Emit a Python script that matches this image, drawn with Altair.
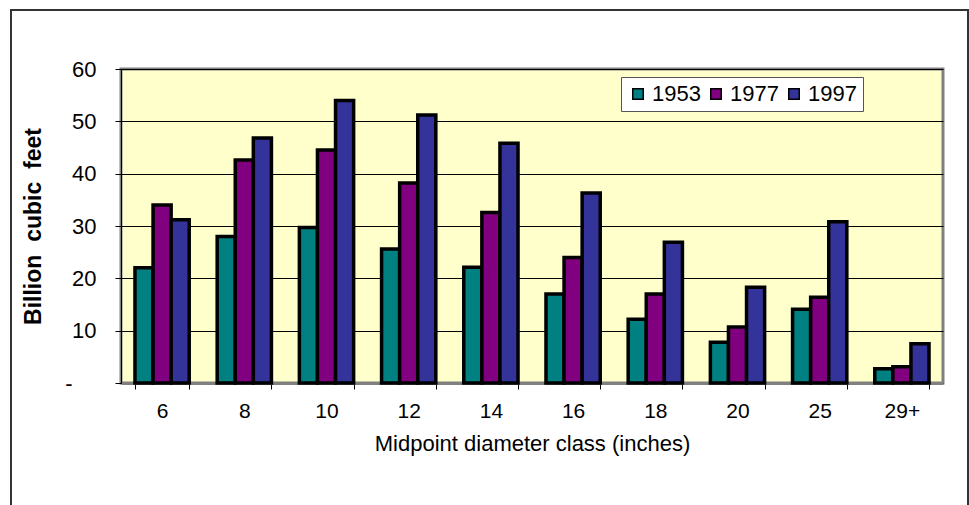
import altair as alt
import pandas as pd

# Net volume by midpoint diameter class, three inventory years
classes = ["6", "8", "10", "12", "14", "16", "18", "20", "25", "29+"]
years = ["1953", "1977", "1997"]
v1953 = [22.0, 28.0, 29.7, 25.6, 22.1, 17.0, 12.2, 7.8, 14.1, 2.7]
v1977 = [34.0, 42.6, 44.5, 38.2, 32.6, 24.0, 17.0, 10.7, 16.4, 3.1]
v1997 = [31.2, 46.8, 54.0, 51.2, 45.8, 36.3, 26.9, 18.3, 30.8, 7.5]
colors = ["#008080", "#800080", "#333399"]

rows = []
for yr, vals in zip(years, [v1953, v1977, v1997]):
    for c, v in zip(classes, vals):
        rows.append({"cls": c, "year": yr, "volume": v})
df = pd.DataFrame(rows)

FONT = "Liberation Sans"
NB = "\u00a0"
W, H = 822, 314

bars = alt.Chart(df).mark_bar(stroke="black", strokeWidth=3.5).encode(
    x=alt.X(
        "cls:N",
        sort=classes,
        scale=alt.Scale(paddingInner=0.34, paddingOuter=0.17),
        axis=alt.Axis(
            title="Midpoint diameter class (inches)",
            titleFontSize=22,
            labelAngle=0,
            tickBand="extent",
            tickSize=6,
            tickColor="black",
            domainColor="#808080",
            domainWidth=3,
            labelPadding=11,
            titlePadding=12,
            grid=False,
        ),
    ),
    xOffset=alt.XOffset("year:N", sort=years),
    y=alt.Y(
        "volume:Q",
        scale=alt.Scale(domain=[0, 60], nice=False),
        axis=alt.Axis(
            title=f"Billion{NB}{NB}cubic{NB}{NB}feet",
            titleFontWeight="bold",
            titleFontSize=23,
            values=[0, 10, 20, 30, 40, 50, 60],
            labelExpr="datum.value == 0 ? '-' : datum.label",
            labelPadding=alt.ExprRef(expr="datum.value == 0 ? 43 : 19"),
            labelFontSize=22,
            tickSize=6,
            tickColor="black",
            domainColor="black",
            titlePadding=19,
            grid=True,
            gridColor="black",
            gridWidth=1,
        ),
    ),
    fill=alt.Fill(
        "year:N",
        sort=years,
        scale=alt.Scale(domain=years, range=colors),
        legend=alt.Legend(
            title=None,
            orient="none",
            legendX=500,
            legendY=8,
            direction="horizontal",
            symbolType="square",
            symbolSize=110,
            symbolStrokeColor="black",
            symbolStrokeWidth=1.5,
            symbolOpacity=1,
            labelOffset=3,
            columnPadding=4,
            fillColor="white",
            strokeColor="#555555",
            padding=6,
        ),
    ),
)

# outer chart-area frame
frame = alt.Chart(pd.DataFrame({"k": [0]})).mark_rect(
    fill=None, stroke="#333333", strokeWidth=2
).encode(
    x=alt.value(-110), x2=alt.value(847), y=alt.value(-59), y2=alt.value(460)
)

chart = (
    alt.layer(bars, frame)
    .properties(
        width=W,
        height=H,
        autosize=alt.AutoSizeParams(type="none"),
        padding={"left": 121, "top": 69, "right": 26, "bottom": 122},
        background="white",
    )
    .configure_view(fill="#FFFFCC", stroke="#808080", strokeWidth=3)
    .configure_axis(
        labelFont=FONT,
        titleFont=FONT,
        labelFontSize=21,
        titleFontSize=21,
        labelColor="black",
        titleColor="black",
        titleFontWeight="normal",
    )
    .configure_legend(labelFont=FONT, labelFontSize=22, labelColor="black")
)

chart.save("out.html", embed_options={"renderer": "svg", "actions": False})
